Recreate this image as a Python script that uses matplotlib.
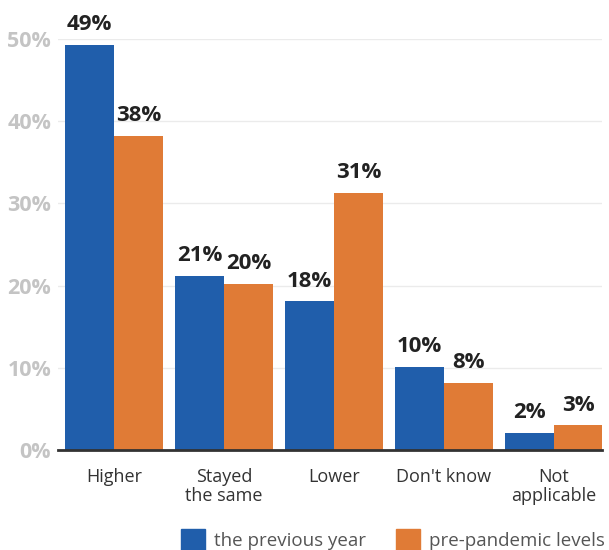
import matplotlib.pyplot as plt
from matplotlib.patches import Patch
import numpy as np

plt.rcParams['font.family'] = ['Open Sans', 'DejaVu Sans']

# Datos del gráfico
categories = ["Higher", "Stayed\nthe same", "Lower", "Don't know", "Not\napplicable"]
previous_year = [49.3, 21.2, 18.1, 10.1, 2.1]
pre_pandemic = [38.2, 20.2, 31.3, 8.2, 3.0]
series_names = ["the previous year", "pre-pandemic levels"]
yticks = [0, 10, 20, 30, 40, 50]

blue = '#205EAB'
orange = '#E07B36'

fig = plt.figure(figsize=(6.09, 5.5), dpi=100)
ax = fig.add_axes([58 / 609, 1 - 450 / 550, (602 - 58) / 609, (450 - 39) / 550])

x = np.arange(len(categories))
w = 49 / 110
b1 = ax.bar(x - w / 2, previous_year, width=w, color=blue)
b2 = ax.bar(x + w / 2, pre_pandemic, width=w, color=orange)

# Etiquetas de valores
for bars, vals in ((b1, previous_year), (b2, pre_pandemic)):
    for bar, v in zip(bars, vals):
        ax.annotate(f"{round(v)}%", (bar.get_x() + bar.get_width() / 2, v),
                    xytext=(0, 10.5), textcoords='offset points',
                    ha='center', va='baseline', fontsize=16, fontweight='bold',
                    color='#222222', annotation_clip=False)

ax.set_xlim(-56 / 110, 488 / 110)
ax.set_ylim(0, 50)
ax.set_yticks(yticks)
ax.set_yticklabels([f"{t}%" for t in yticks], fontsize=15.5, fontweight='bold', color='#c4c4c4')
ax.set_xticks(x)
ax.set_xticklabels(categories, fontsize=13, color='#333333', linespacing=1.1)
ax.tick_params(axis='both', length=0)
ax.tick_params(axis='x', pad=13)
ax.tick_params(axis='y', pad=5)

ax.grid(axis='y', color='#ebebeb', linewidth=1)
ax.set_axisbelow(True)
for s in ('top', 'right', 'left'):
    ax.spines[s].set_visible(False)
ax.spines['bottom'].set_color('#333333')
ax.spines['bottom'].set_linewidth(2)

handles = [Patch(color=blue), Patch(color=orange)]
fig.legend(handles, series_names, loc='lower center', bbox_to_anchor=(0.645, -0.03),
           ncol=2, frameon=False, fontsize=13.5, labelcolor='#555555',
           handlelength=1.3, handleheight=1.3, handletextpad=0.45, columnspacing=1.6)

fig.savefig('out.png', dpi=100)
